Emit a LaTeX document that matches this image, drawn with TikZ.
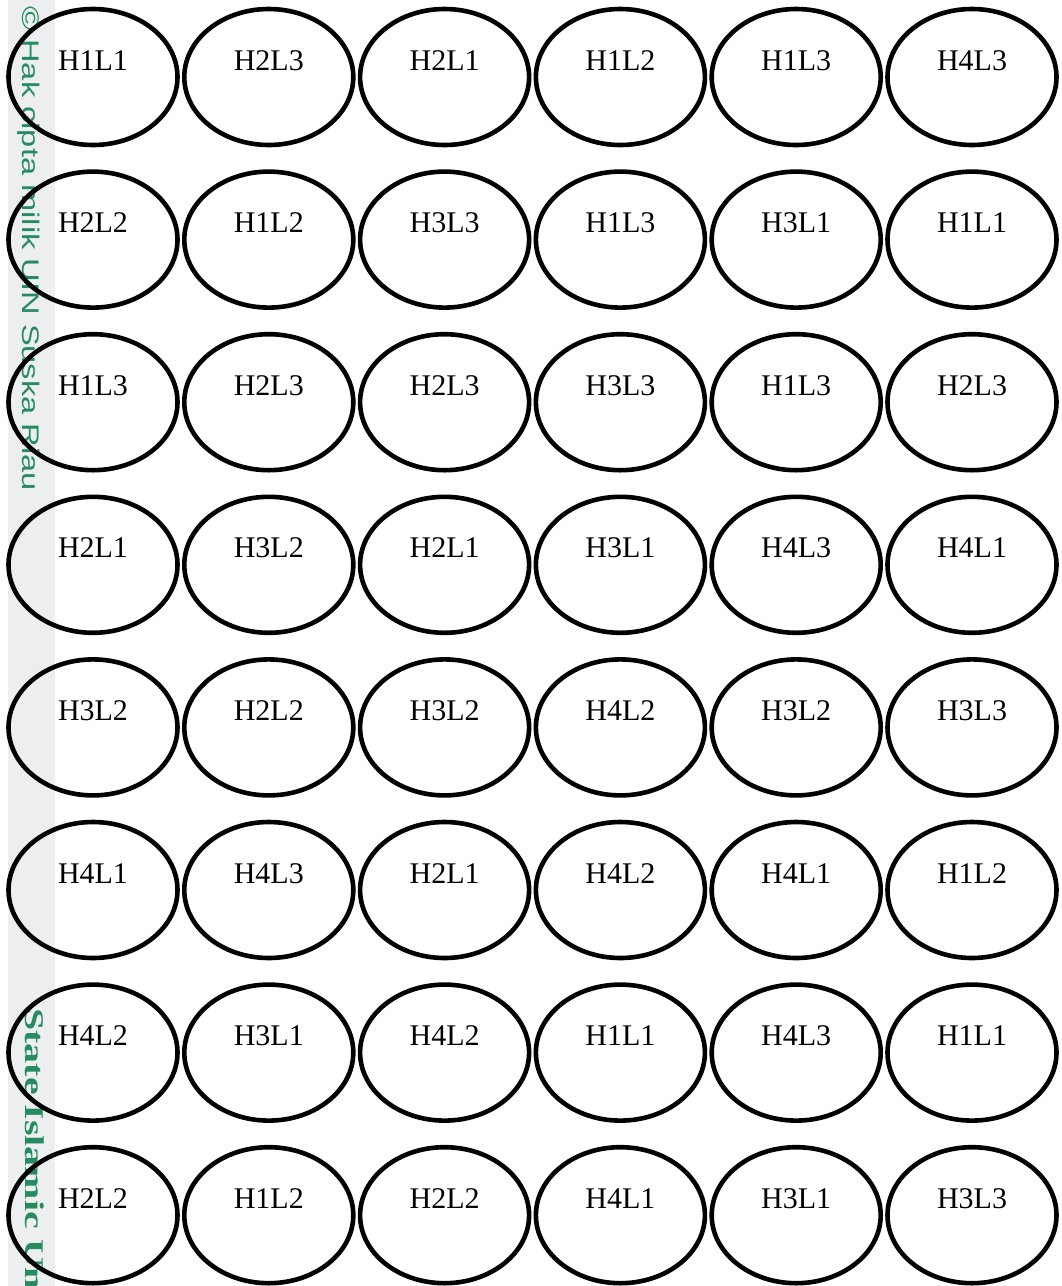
\documentclass[tikz,border=0pt]{standalone}
\usepackage{fontspec}
\setmainfont{Liberation Serif}
\newfontfamily\wmsans{Liberation Sans}
\usetikzlibrary{shapes.geometric}
\definecolor{wmgreen}{RGB}{38,140,96}
\definecolor{wmgrey}{RGB}{236,238,240}
\tikzset{
  oval/.style={ellipse, draw=black, line width=4.6pt, minimum width=169pt, minimum height=136pt, inner sep=0pt},
  lbl/.style={anchor=base, inner sep=0pt, font=\fontsize{30}{36}\selectfont},
  wm/.style={rotate=-90, anchor=base west, inner sep=0pt, text=wmgreen}
}
\begin{document}
\begin{tikzpicture}[x=1pt,y=1pt]
\useasboundingbox (0,0) rectangle (1061,-1286);
\fill[white] (0,0) rectangle (1061,-1286);
% watermark strip and text
\fill[wmgrey] (8,0) rectangle (55,-1286);
\node[wm] (wm1) at (22,-6) {\scalebox{1.36}[1]{\wmsans\fontsize{24}{24}\selectfont\textcopyright{} Hak cipta milik UIN Suska Riau}};
\node[wm] (wm2) at (25,-1008) {\scalebox{1.48}[1]{\bfseries\fontsize{27}{27}\selectfont State Islamic Uni}};
% grid of ellipses
\foreach \row [count=\j from 0] in {
  {H1L1,H2L3,H2L1,H1L2,H1L3,H4L3},
  {H2L2,H1L2,H3L3,H1L3,H3L1,H1L1},
  {H1L3,H2L3,H2L3,H3L3,H1L3,H2L3},
  {H2L1,H3L2,H2L1,H3L1,H4L3,H4L1},
  {H3L2,H2L2,H3L2,H4L2,H3L2,H3L3},
  {H4L1,H4L3,H2L1,H4L2,H4L1,H1L2},
  {H4L2,H3L1,H4L2,H1L1,H4L3,H1L1},
  {H2L2,H1L2,H2L2,H4L1,H3L1,H3L3}} {
  \foreach \t [count=\i from 0] in \row {
    \pgfmathsetmacro{\cx}{93+175.8*\i}
    \pgfmathsetmacro{\cy}{-77-162.6*\j}
    \node[oval] (e\j-\i) at (\cx,\cy) {};
    \node[lbl] (t\j-\i) at (\cx,\cy+7) {\t};
  }
}
\end{tikzpicture}
\end{document}
